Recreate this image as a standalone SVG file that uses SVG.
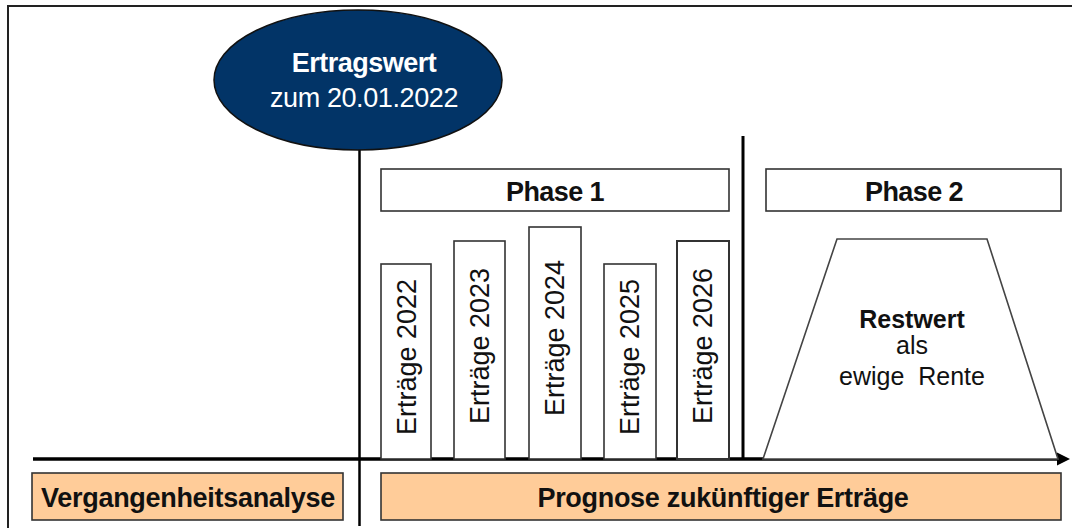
<svg xmlns="http://www.w3.org/2000/svg" width="1072" height="528" viewBox="0 0 1072 528">
<style>
text{font-family:"Liberation Sans",Arial,sans-serif;fill:#111;}
.b{font-weight:bold;}
.box{fill:#fff;stroke:#333;stroke-width:1.6;}
.peach{fill:#FFCC99;stroke:#333;stroke-width:1.6;}
.bar{font-size:27px;}
.hdr{font-size:27px;font-weight:bold;letter-spacing:-0.6px;}
</style>
<rect width="1072" height="528" fill="#fff"/>
<g id="frame" fill="none" stroke="#222" stroke-width="2">
<path d="M8,528 L8,6 L1072,6"/>
</g>
<g id="connectors" fill="none" stroke="#000">
<line x1="359.5" y1="149" x2="359.5" y2="526" stroke-width="2.5"/>
<line x1="743" y1="136" x2="743" y2="459" stroke-width="3"/>
<line x1="33" y1="459" x2="1060" y2="459" stroke-width="3.5"/>
<polygon points="1057,452.5 1070,459 1057,465.5" fill="#000" stroke="none"/>
</g>
<g id="ertragswert">
<ellipse cx="358" cy="80" rx="144" ry="70" fill="#023467" stroke="#111" stroke-width="1.5"/>
<text x="364" y="72" text-anchor="middle" class="b" style="fill:#fff;font-size:27px;letter-spacing:-0.5px">Ertragswert</text>
<text x="364" y="107" text-anchor="middle" style="fill:#fff;font-size:27px;letter-spacing:-0.4px">zum 20.01.2022</text>
</g>
<g id="phase1">
<rect class="box" x="381" y="169" width="348" height="42"/>
<text x="555" y="201" text-anchor="middle" class="hdr">Phase 1</text>
</g>
<g id="phase2">
<rect class="box" x="766" y="169" width="295" height="42"/>
<text x="914" y="201" text-anchor="middle" class="hdr">Phase 2</text>
</g>
<g id="bar2022">
<rect class="box" x="381" y="264" width="50" height="195"/>
<text class="bar" transform="translate(416,357) rotate(-90)" text-anchor="middle">Erträge 2022</text>
</g>
<g id="bar2023">
<rect class="box" x="454" y="241" width="51" height="218"/>
<text class="bar" transform="translate(489,346) rotate(-90)" text-anchor="middle">Erträge 2023</text>
</g>
<g id="bar2024">
<rect class="box" x="529" y="227" width="52" height="232"/>
<text class="bar" transform="translate(564,338) rotate(-90)" text-anchor="middle">Erträge 2024</text>
</g>
<g id="bar2025">
<rect class="box" x="604" y="264" width="52" height="195"/>
<text class="bar" transform="translate(639,357) rotate(-90)" text-anchor="middle">Erträge 2025</text>
</g>
<g id="bar2026">
<rect class="box" x="677" y="241" width="52" height="218" style="stroke-width:2"/>
<text class="bar" transform="translate(712,346) rotate(-90)" text-anchor="middle">Erträge 2026</text>
</g>
<g id="restwert">
<polygon points="763,459 837,239 987,239 1058,459" fill="#fff" stroke="#444" stroke-width="1.6"/>
<text x="912" y="328" text-anchor="middle" class="b" style="font-size:25px">Restwert</text>
<text x="912" y="354" text-anchor="middle" style="font-size:25px">als</text>
<text x="912" y="385" text-anchor="middle" style="font-size:25px;white-space:pre">ewige  Rente</text>
</g>
<g id="vergangenheit">
<rect class="peach" x="32" y="473" width="311" height="47"/>
<text x="188" y="507" text-anchor="middle" class="b" style="font-size:27px;letter-spacing:-0.3px">Vergangenheitsanalyse</text>
</g>
<g id="prognose">
<rect class="peach" x="381" y="473" width="680" height="47"/>
<text x="723" y="507" text-anchor="middle" class="b" style="font-size:27px;letter-spacing:-0.3px">Prognose zukünftiger Erträge</text>
</g>
</svg>
